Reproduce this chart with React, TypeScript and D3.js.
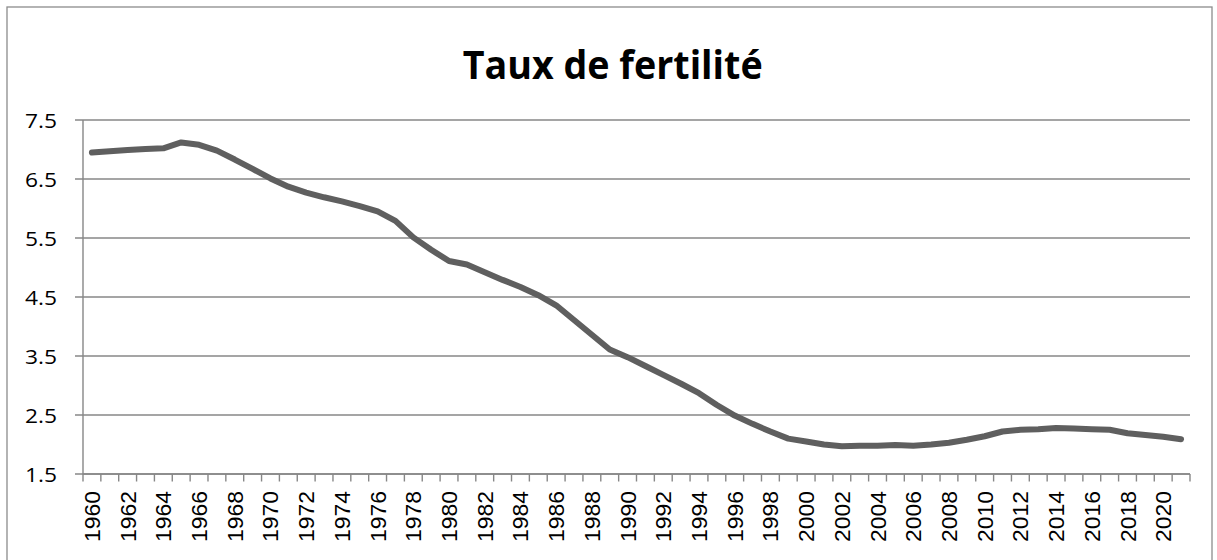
import * as d3 from "d3";

const years = d3.range(1960, 2022).map(String);

const fertility = [
  6.95, 6.97, 6.99, 7.01, 7.02, 7.12, 7.08, 6.98, 6.83, 6.67,
  6.51, 6.37, 6.27, 6.19, 6.12, 6.04, 5.95, 5.79, 5.51, 5.3,
  5.11, 5.05, 4.92, 4.79, 4.67, 4.53, 4.36, 4.11, 3.86, 3.61,
  3.48, 3.33, 3.18, 3.03, 2.87, 2.67, 2.49, 2.35, 2.22, 2.1,
  2.05, 2.0, 1.97, 1.98, 1.98, 1.99, 1.98, 2.0, 2.03, 2.08,
  2.14, 2.22, 2.25, 2.26, 2.28, 2.27, 2.26, 2.25, 2.19, 2.16,
  2.13, 2.09,
];

const yTicks = [1.5, 2.5, 3.5, 4.5, 5.5, 6.5, 7.5];
const title = "Taux de fertilité";

const W = 1217;
const H = 560;
const left = 83;
const right = 1190;
const top = 120;
const bottom = 474;
const gridColor = "#878787";

export default function App() {
  const x = d3.scaleBand().domain(years).range([left, right]).padding(0);
  const y = d3.scaleLinear().domain([1.5, 7.5]).range([bottom, top]);

  const line = d3
    .line<number>()
    .x((_, i) => x(years[i])! + x.bandwidth() / 2)
    .y((d) => y(d));

  // tick marks sit between categories, like the spreadsheet chart
  const xTickPos = years.map((yr) => x(yr)!).concat([right]);

  return (
    <svg
      width={W}
      height={H}
      style={{ position: "absolute", left: 0, top: 0, background: "#fff" }}
    >
      <rect x={7} y={7} width={1205} height={H} fill="#fff" stroke="#8c8c8c" strokeWidth={1.3} />

      <text
        x={612.7}
        y={79}
        textAnchor="middle"
        fontFamily="Open Sans, sans-serif"
        fontWeight="bold"
        fontSize={40}
        textLength={300}
        lengthAdjust="spacingAndGlyphs"
        fill="#000"
      >
        {title}
      </text>

      {/* grid lines + y ticks */}
      {yTicks.map((t) => (
        <g key={t}>
          <line x1={75} x2={right} y1={y(t)} y2={y(t)} stroke={gridColor} strokeWidth={1.4} />
          <text
            x={57}
            y={y(t) + 8}
            textAnchor="end"
            fontFamily="Open Sans, sans-serif"
            fontSize={19.5}
            textLength={32}
            lengthAdjust="spacingAndGlyphs"
            fill="#000"
          >
            {t.toFixed(1)}
          </text>
        </g>
      ))}

      {/* axes */}
      <line x1={left} x2={left} y1={top} y2={bottom} stroke={gridColor} strokeWidth={1.4} />
      <line x1={left} x2={right} y1={bottom} y2={bottom} stroke={gridColor} strokeWidth={1.4} />
      {xTickPos.map((px, i) => (
        <line key={i} x1={px} x2={px} y1={bottom} y2={bottom + 7.5} stroke={gridColor} strokeWidth={1.4} />
      ))}

      {years.map((yr, i) =>
        i % 2 === 0 ? (
          <text
            key={yr}
            transform={`translate(${x(yr)! + x.bandwidth() / 2 + 8},${491}) rotate(-90)`}
            textAnchor="end"
            fontFamily="Liberation Sans, Arial, sans-serif"
            fontSize={22.5}
            textLength={51}
            lengthAdjust="spacingAndGlyphs"
            fill="#000"
          >
            {yr}
          </text>
        ) : null
      )}

      <path
        d={line(fertility)!}
        fill="none"
        stroke="#5f5f5f"
        strokeWidth={6}
        strokeLinejoin="round"
        strokeLinecap="round"
      />
    </svg>
  );
}
